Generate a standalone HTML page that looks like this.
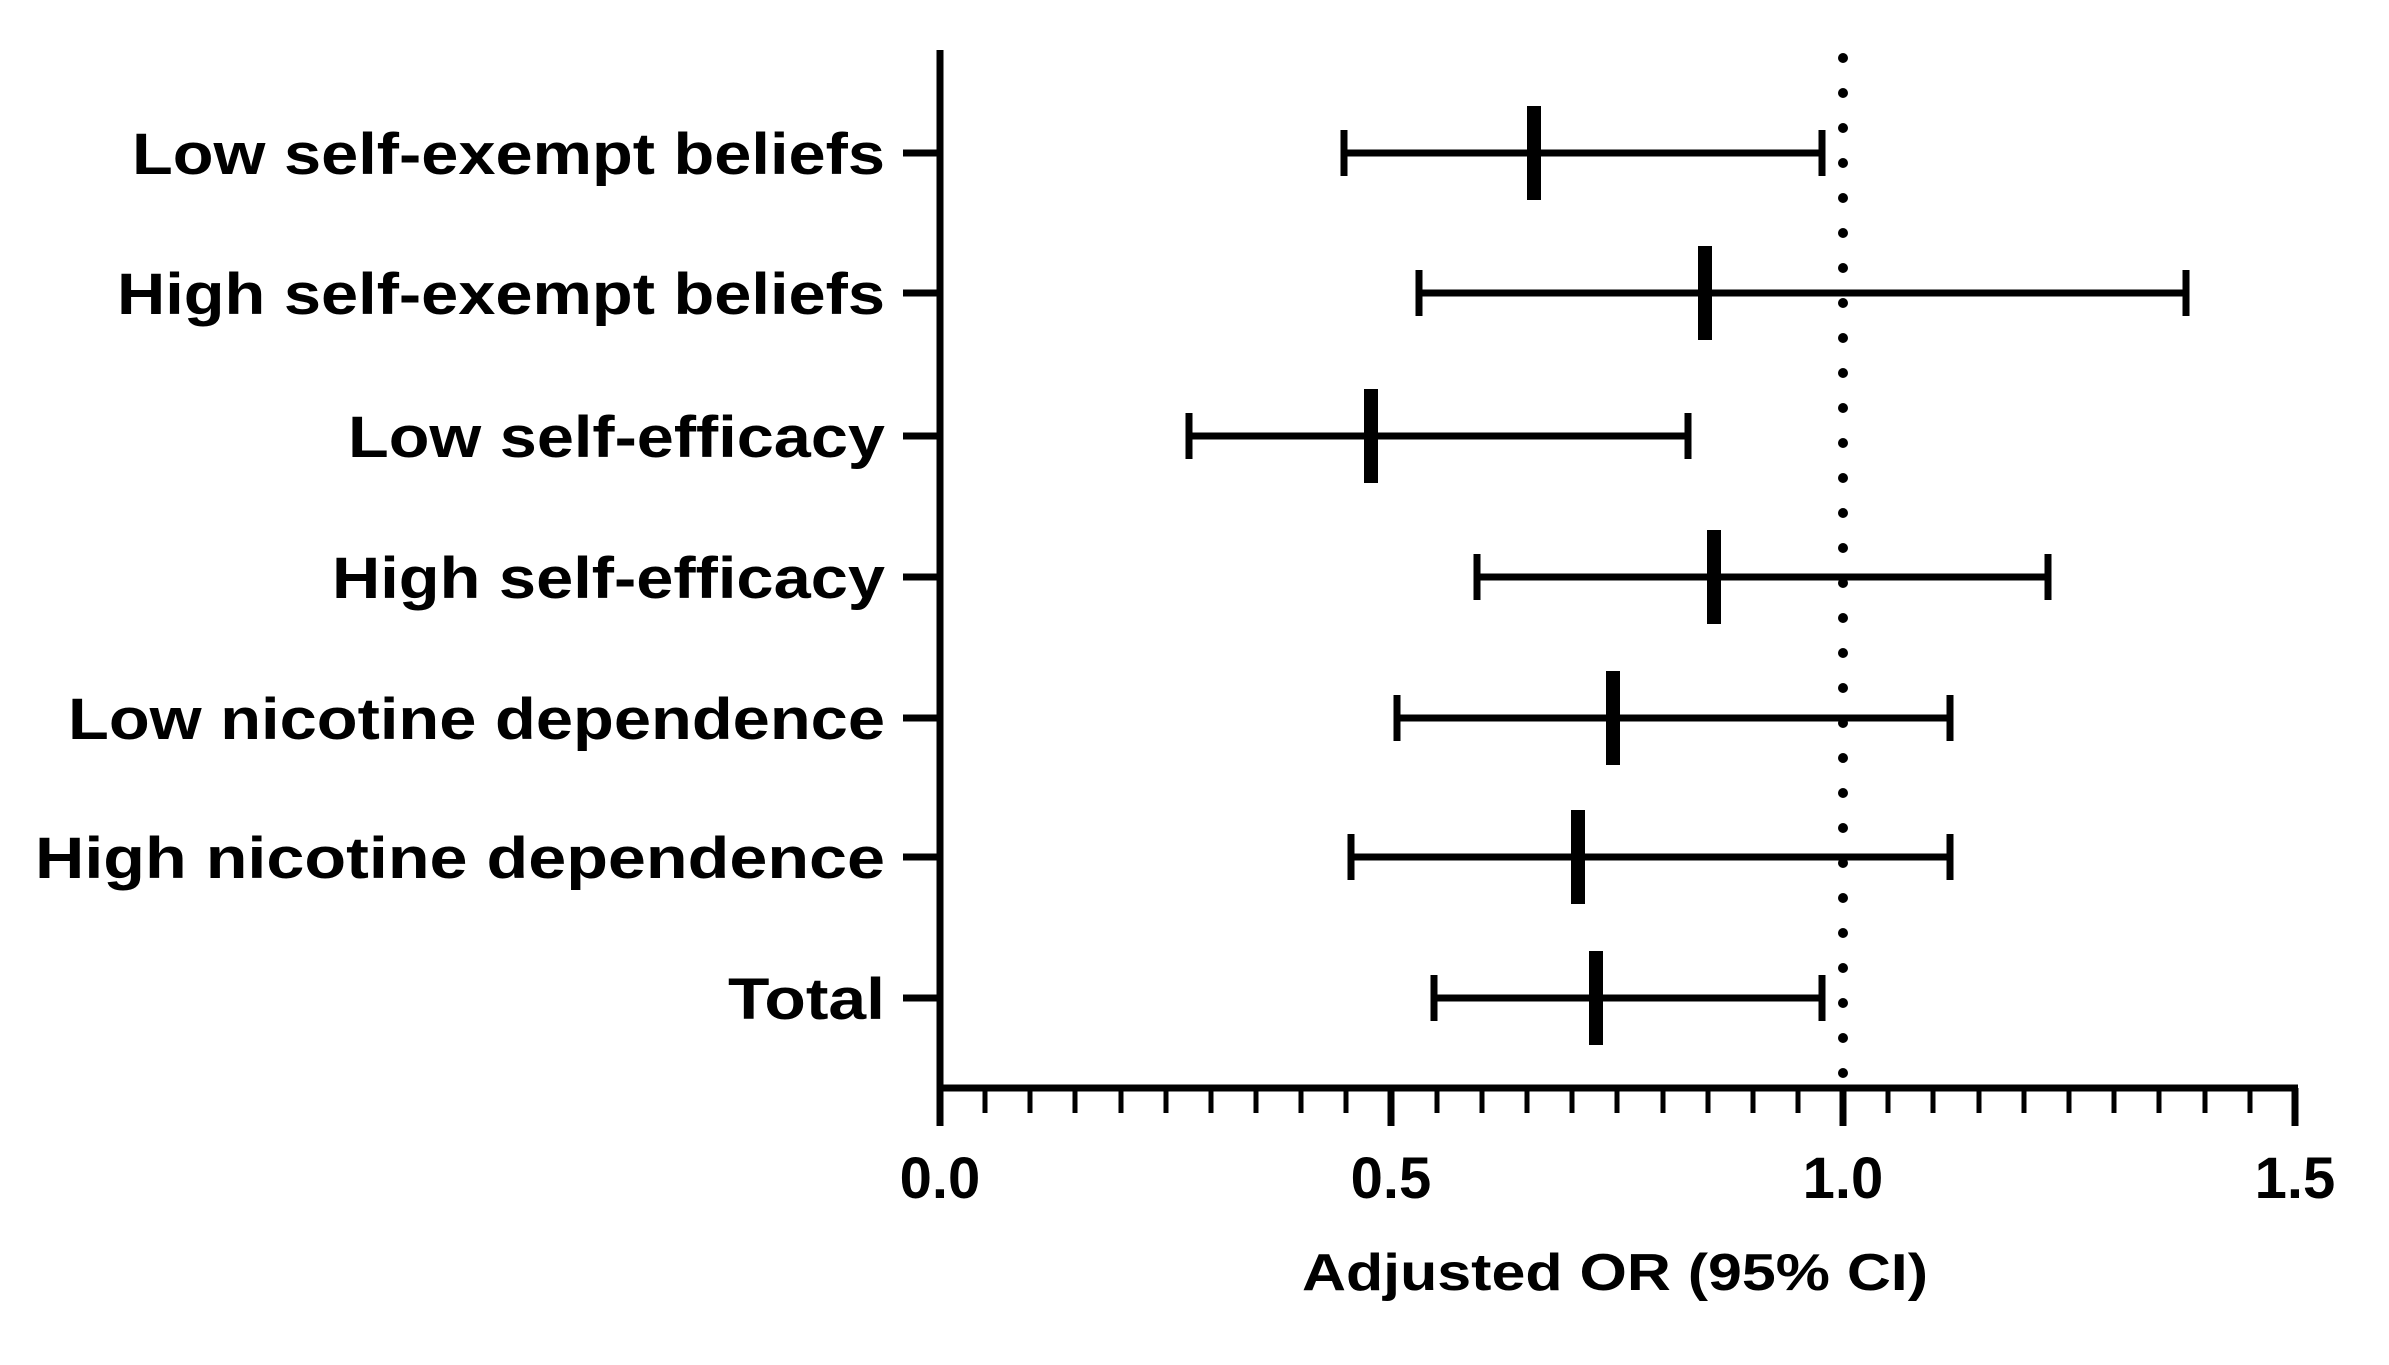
<!DOCTYPE html>
<html><head><style>body{margin:0;background:#fff}</style></head><body>
<svg width="2389" height="1360" xmlns="http://www.w3.org/2000/svg" font-family="Liberation Sans, Arial, sans-serif" font-weight="bold">
<rect width="2389" height="1360" fill="#fff"/>
<g transform="translate(-5,-2)">
<g stroke="#000" stroke-width="7" fill="none">
<line x1="945" y1="52" x2="945" y2="1128"/>
<line x1="942" y1="1090" x2="2303" y2="1090"/>
<line x1="1396" y1="1090" x2="1396" y2="1128"/>
<line x1="1848" y1="1090" x2="1848" y2="1128"/>
<line x1="2300" y1="1090" x2="2300" y2="1128"/>
</g>
<g stroke="#000" stroke-width="5">
<line x1="990" y1="1090" x2="990" y2="1115"/><line x1="1035" y1="1090" x2="1035" y2="1115"/><line x1="1080" y1="1090" x2="1080" y2="1115"/><line x1="1126" y1="1090" x2="1126" y2="1115"/><line x1="1171" y1="1090" x2="1171" y2="1115"/><line x1="1216" y1="1090" x2="1216" y2="1115"/><line x1="1261" y1="1090" x2="1261" y2="1115"/><line x1="1306" y1="1090" x2="1306" y2="1115"/><line x1="1351" y1="1090" x2="1351" y2="1115"/>
<line x1="1442" y1="1090" x2="1442" y2="1115"/><line x1="1487" y1="1090" x2="1487" y2="1115"/><line x1="1532" y1="1090" x2="1532" y2="1115"/><line x1="1577" y1="1090" x2="1577" y2="1115"/><line x1="1622" y1="1090" x2="1622" y2="1115"/><line x1="1668" y1="1090" x2="1668" y2="1115"/><line x1="1713" y1="1090" x2="1713" y2="1115"/><line x1="1758" y1="1090" x2="1758" y2="1115"/><line x1="1803" y1="1090" x2="1803" y2="1115"/>
<line x1="1893" y1="1090" x2="1893" y2="1115"/><line x1="1938" y1="1090" x2="1938" y2="1115"/><line x1="1984" y1="1090" x2="1984" y2="1115"/><line x1="2029" y1="1090" x2="2029" y2="1115"/><line x1="2074" y1="1090" x2="2074" y2="1115"/><line x1="2119" y1="1090" x2="2119" y2="1115"/><line x1="2164" y1="1090" x2="2164" y2="1115"/><line x1="2210" y1="1090" x2="2210" y2="1115"/><line x1="2255" y1="1090" x2="2255" y2="1115"/>
</g>
<g stroke="#000" stroke-width="10" stroke-dasharray="0 35" stroke-linecap="round">
<line x1="1848" y1="60" x2="1848" y2="1080"/>
</g>
<g stroke="#000" stroke-width="7">
<line x1="1349" y1="155" x2="1827" y2="155"/><line x1="1349" y1="132" x2="1349" y2="178"/><line x1="1827" y1="132" x2="1827" y2="178"/><line x1="908" y1="155" x2="945" y2="155"/>
<line x1="1424" y1="295" x2="2191" y2="295"/><line x1="1424" y1="272" x2="1424" y2="318"/><line x1="2191" y1="272" x2="2191" y2="318"/><line x1="908" y1="295" x2="945" y2="295"/>
<line x1="1194" y1="438" x2="1693" y2="438"/><line x1="1194" y1="415" x2="1194" y2="461"/><line x1="1693" y1="415" x2="1693" y2="461"/><line x1="908" y1="438" x2="945" y2="438"/>
<line x1="1482" y1="579" x2="2053" y2="579"/><line x1="1482" y1="556" x2="1482" y2="602"/><line x1="2053" y1="556" x2="2053" y2="602"/><line x1="908" y1="579" x2="945" y2="579"/>
<line x1="1402" y1="720" x2="1955" y2="720"/><line x1="1402" y1="697" x2="1402" y2="743"/><line x1="1955" y1="697" x2="1955" y2="743"/><line x1="908" y1="720" x2="945" y2="720"/>
<line x1="1356" y1="859" x2="1955" y2="859"/><line x1="1356" y1="836" x2="1356" y2="882"/><line x1="1955" y1="836" x2="1955" y2="882"/><line x1="908" y1="859" x2="945" y2="859"/>
<line x1="1439" y1="1000" x2="1827" y2="1000"/><line x1="1439" y1="977" x2="1439" y2="1023"/><line x1="1827" y1="977" x2="1827" y2="1023"/><line x1="908" y1="1000" x2="945" y2="1000"/>
</g>
<g fill="#000">
<rect x="1532" y="108" width="14" height="94"/>
<rect x="1703" y="248" width="14" height="94"/>
<rect x="1369" y="391" width="14" height="94"/>
<rect x="1712" y="532" width="14" height="94"/>
<rect x="1611" y="673" width="14" height="94"/>
<rect x="1576" y="812" width="14" height="94"/>
<rect x="1594" y="953" width="14" height="94"/>
</g>
<g font-size="58" text-anchor="middle" fill="#000">
<text x="945" y="1200">0.0</text><text x="1396" y="1200">0.5</text><text x="1848" y="1200">1.0</text><text x="2300" y="1200">1.5</text>
</g>
<text x="1620" y="1292" font-size="52" text-anchor="middle" textLength="626" lengthAdjust="spacingAndGlyphs">Adjusted OR (95% CI)</text>
<g font-size="58" text-anchor="end" fill="#000">
<text x="890" y="176" textLength="753" lengthAdjust="spacingAndGlyphs">Low self-exempt beliefs</text>
<text x="890" y="316" textLength="768" lengthAdjust="spacingAndGlyphs">High self-exempt beliefs</text>
<text x="890" y="459" textLength="537" lengthAdjust="spacingAndGlyphs">Low self-efficacy</text>
<text x="890" y="600" textLength="553" lengthAdjust="spacingAndGlyphs">High self-efficacy</text>
<text x="890" y="741" textLength="817" lengthAdjust="spacingAndGlyphs">Low nicotine dependence</text>
<text x="890" y="880" textLength="850" lengthAdjust="spacingAndGlyphs">High nicotine dependence</text>
<text x="890" y="1021" textLength="157" lengthAdjust="spacingAndGlyphs">Total</text>
</g>
</g>
</svg>
</body></html>
